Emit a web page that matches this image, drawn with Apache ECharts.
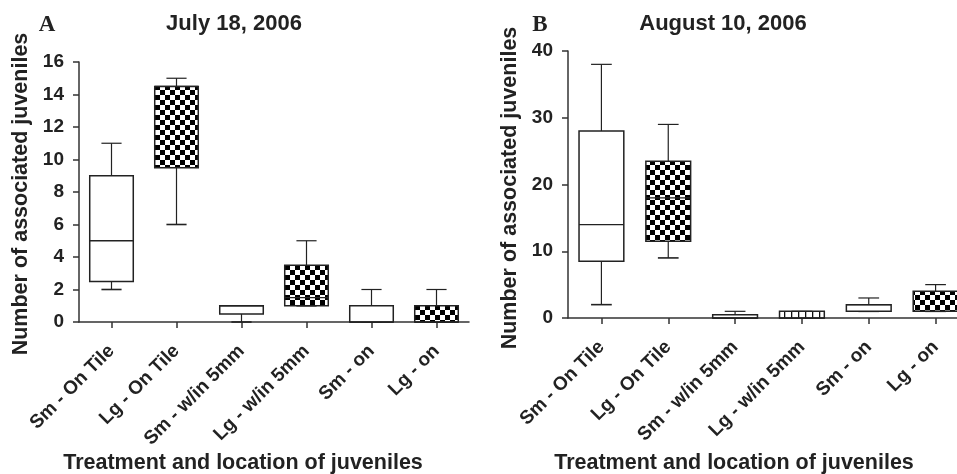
<!DOCTYPE html>
<html><head><meta charset="utf-8">
<script src="https://cdn.jsdelivr.net/npm/echarts@6/dist/echarts.min.js"></script>
<style>html,body{margin:0;padding:0;background:#fff}#c{width:957px;height:474px}</style>
</head><body><div id="c"></div>
<script>
// ---------- data ----------
const categories = ['Sm - On Tile', 'Lg - On Tile', 'Sm - w/in 5mm', 'Lg - w/in 5mm', 'Sm - on', 'Lg - on'];
// each row: [min, Q1, median, Q3, max]
const julyBoxes = [
  [2, 2.5, 5, 9, 11],
  [6, 9.5, 14.5, 14.5, 15],
  [0, 0.5, 1, 1, 1],
  [1, 1, 1.5, 3.5, 5],
  [0, 0, 0, 1, 2],
  [0, 0, 0, 1, 2]
];
const augustBoxes = [
  [2, 8.5, 14, 28, 38],
  [9, 11.5, 18, 23.5, 29],
  [0, 0, 0, 0.5, 1],
  [0, 0, 0, 1, 1],
  [1, 1, 2, 2, 3],
  [1, 1, 1, 4, 5]
];
const julyTicks = [0, 2, 4, 6, 8, 10, 12, 14, 16];
const augustTicks = [0, 10, 20, 30, 40];
const panelTitles = ['July 18, 2006', 'August 10, 2006'];
const panelLetters = ['A', 'B'];
const yAxisTitle = 'Number of associated juveniles';
const xAxisTitle = 'Treatment and location of juveniles';

// ---------- patterns ----------
function checker(cell) {
  const c = document.createElement('canvas');
  c.width = cell * 2; c.height = cell * 2;
  const g = c.getContext('2d');
  g.fillStyle = '#fff'; g.fillRect(0, 0, c.width, c.height);
  g.fillStyle = '#000';
  g.fillRect(0, 0, cell, cell);
  g.fillRect(cell, cell, cell, cell);
  return { image: c, repeat: 'repeat' };
}
function vlines(step) {
  const c = document.createElement('canvas');
  c.width = step; c.height = 8;
  const g = c.getContext('2d');
  g.fillStyle = '#fff'; g.fillRect(0, 0, c.width, c.height);
  g.fillStyle = '#111'; g.fillRect(0, 0, 1.3, 8);
  return { image: c, repeat: 'repeat' };
}
const checkerFill = checker(5);
const lineFill = vlines(7);

const INK = '#222';
const FONT = '"Liberation Sans", Arial, sans-serif';

function makeRender(panel) {
  return function (params, api) {
    const ci = api.value(0);
    const vals = [1, 2, 3, 4, 5].map(k => api.value(k));
    const pts = vals.map(v => api.coord([ci, v]));
    const band = api.size([1, 0])[0];
    const bw = band * 0.67, cw = band * 0.31;
    const x = pts[0][0];
    const [pMin, pQ1, pMed, pQ3, pMax] = pts;
    let fill = '#fff';
    if (ci % 2 === 1) fill = (panel === 1 && ci === 3) ? lineFill : checkerFill;
    const ls = { stroke: INK, lineWidth: 1.2 };
    return {
      type: 'group',
      children: [
        { type: 'line', shape: { x1: x, y1: pQ3[1], x2: x, y2: pMax[1] }, style: ls },
        { type: 'line', shape: { x1: x, y1: pMin[1], x2: x, y2: pQ1[1] }, style: ls },
        { type: 'line', shape: { x1: x - cw / 2, y1: pMax[1], x2: x + cw / 2, y2: pMax[1] }, style: ls },
        { type: 'line', shape: { x1: x - cw / 2, y1: pMin[1], x2: x + cw / 2, y2: pMin[1] }, style: { stroke: INK, lineWidth: 1.6 } },
        { type: 'rect', shape: { x: x - bw / 2, y: pQ3[1], width: bw, height: pQ1[1] - pQ3[1] },
          style: { fill: fill, stroke: INK, lineWidth: 1.5 } },
        { type: 'line', shape: { x1: x - bw / 2, y1: pMed[1], x2: x + bw / 2, y2: pMed[1] }, style: { stroke: INK, lineWidth: 1.3 } }
      ]
    };
  };
}

function xAxisCfg(gi) {
  return {
    type: 'category', gridIndex: gi, data: categories, boundaryGap: true,
    axisLine: { show: true, lineStyle: { color: '#333', width: 1.5 } },
    axisTick: { show: true, alignWithLabel: true, length: 6, inside: false, lineStyle: { color: '#333', width: 1.5 } },
    axisLabel: { show: true, rotate: 45, margin: 26, interval: 0, fontSize: 19, fontWeight: 'bold', color: INK, fontFamily: FONT },
    splitLine: { show: false }
  };
}
function yAxisCfg(gi, ticks) {
  return {
    type: 'value', gridIndex: gi, min: ticks[0], max: ticks[ticks.length - 1], interval: ticks[1] - ticks[0],
    axisLine: { show: true, lineStyle: { color: '#333', width: 1.5 } },
    axisTick: { show: true, length: 6, inside: false, lineStyle: { color: '#333', width: 1.5 } },
    axisLabel: { show: true, margin: 15, fontSize: 19, fontWeight: 'bold', color: INK, fontFamily: FONT },
    splitLine: { show: false }
  };
}

function txt(x, y, s, size, opts) {
  return Object.assign({
    type: 'text', x: x, y: y,
    style: { text: s, fontSize: size, fontWeight: 'bold', fontFamily: FONT, fill: INK, align: 'center', verticalAlign: 'middle' }
  }, opts || {});
}

const chart = echarts.init(document.getElementById('c'), null, { renderer: 'canvas' });
chart.setOption({
  animation: false,
  backgroundColor: '#fff',
  grid: [
    { left: 79, right: 488, top: 62, bottom: 152, containLabel: false, outerBoundsMode: 'none' },
    { left: 568, right: -12, top: 51, bottom: 156, containLabel: false, outerBoundsMode: 'none' }
  ],
  xAxis: [xAxisCfg(0), xAxisCfg(1)],
  yAxis: [yAxisCfg(0, julyTicks), yAxisCfg(1, augustTicks)],
  series: [
    { type: 'custom', name: panelTitles[0], xAxisIndex: 0, yAxisIndex: 0, renderItem: makeRender(0),
      encode: { x: 0, y: [1, 2, 3, 4, 5] }, data: julyBoxes.map((b, i) => [i].concat(b)) },
    { type: 'custom', name: panelTitles[1], xAxisIndex: 1, yAxisIndex: 1, renderItem: makeRender(1),
      encode: { x: 0, y: [1, 2, 3, 4, 5] }, data: augustBoxes.map((b, i) => [i].concat(b)) }
  ],
  graphic: [
    { type: 'text', x: 47, y: 25, style: { text: panelLetters[0], fontSize: 23, fontWeight: 'bold', fontFamily: '"Liberation Serif", serif', fill: INK, align: 'center', verticalAlign: 'middle' } },
    { type: 'text', x: 540, y: 25, style: { text: panelLetters[1], fontSize: 23, fontWeight: 'bold', fontFamily: '"Liberation Serif", serif', fill: INK, align: 'center', verticalAlign: 'middle' } },
    txt(234, 24, panelTitles[0], 22),
    txt(723, 24, panelTitles[1], 22),
    txt(21, 194, yAxisTitle, 21.5, { rotation: Math.PI / 2 }),
    txt(510, 188, yAxisTitle, 21.5, { rotation: Math.PI / 2 }),
    txt(243, 463, xAxisTitle, 21.5),
    txt(734, 463, xAxisTitle, 21.5)
  ]
});
</script></body></html>
